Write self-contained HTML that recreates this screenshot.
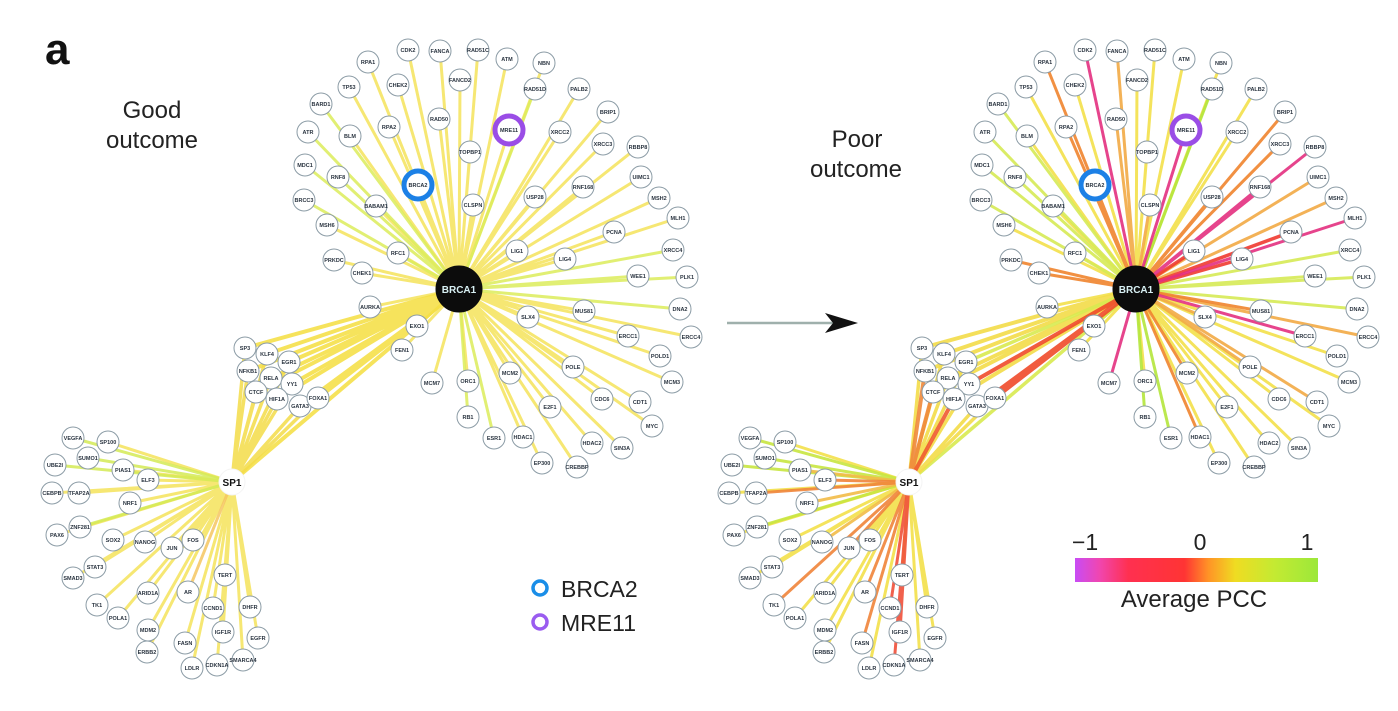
<!DOCTYPE html>
<html><head><meta charset="utf-8"><style>
html,body{margin:0;padding:0;background:#fff;}
svg{display:block;}
.n circle{fill:#fff;stroke:#8c9ca6;stroke-width:1;}
.n text{font-family:"Liberation Sans",sans-serif;font-weight:bold;font-size:5.5px;fill:#2a3440;text-anchor:middle;}
.e path{fill:none;stroke-linecap:round;}
.lbl{font-family:"Liberation Sans",sans-serif;fill:#222;}
</style></head><body>
<svg width="1398" height="711" viewBox="0 0 1398 711" xmlns="http://www.w3.org/2000/svg">
<defs>
<linearGradient id="pcc" x1="0" y1="0" x2="1" y2="0">
<stop offset="0" stop-color="#c84cf5"/>
<stop offset="0.1" stop-color="#f046b0"/>
<stop offset="0.22" stop-color="#ff3050"/>
<stop offset="0.45" stop-color="#ff3434"/>
<stop offset="0.55" stop-color="#ff9426"/>
<stop offset="0.66" stop-color="#efdc22"/>
<stop offset="0.82" stop-color="#c4ea32"/>
<stop offset="1" stop-color="#9ce83a"/>
</linearGradient>
</defs>
<rect width="1398" height="711" fill="#fff"/>

<!-- ================= LEFT NETWORK EDGES ================= -->
<g class="e" stroke-opacity="0.85">
<path stroke="#f4e35a" stroke-width="3" d="M459 289L408 50M459 289L440 51M459 289L478 50M459 289L507 59M459 289L544 63M459 289L368 62M459 289L460 80M459 289L349 87M459 289L398 85M459 289L579 89M459 289L608 112M459 289L439 119M459 289L350 136M459 289L389 127M459 289L509 130M459 289L560 132M459 289L603 144M459 289L638 147M459 289L470 152M459 289L418 185M459 289L583 187M459 289L641 177M459 289L376 206M459 289L473 205M459 289L535 197M459 289L659 198M459 289L327 225M459 289L678 218M459 289L614 232M459 289L398 253M459 289L517 251M459 289L565 259M459 289L334 260M459 289L362 273M459 289L370 307M459 289L417 326M459 289L584 311M459 289L528 317M459 289L628 336M459 289L691 337M459 289L402 350M459 289L660 356M459 289L573 367M459 289L510 373M459 289L672 382M459 289L432 383M459 289L468 381M459 289L602 399M459 289L640 402M459 289L550 407M459 289L652 426M459 289L523 437M459 289L592 443M459 289L622 448M459 289L542 463M459 289L577 467"/>
<path stroke="#dcec5a" stroke-width="3" d="M459 289L535 89M459 289L321 104M459 289L308 132M459 289L305 165M459 289L338 177M459 289L304 200M459 289L673 250M459 289L638 276M459 289L687 277M459 289L680 309M459 289L468 417M459 289L494 438"/>
<path stroke="#f5de40" stroke-width="4" d="M459 289L245 348M459 289L267 354M459 289L289 362M459 289L248 371M459 289L271 378M459 289L292 384M459 289L256 392M459 289L277 399M459 289L300 406M459 289L318 398M459 289L232 482"/>
<path stroke="#f3dc48" stroke-width="3.5" d="M232 482L245 348M232 482L267 354M232 482L289 362M232 482L248 371M232 482L271 378M232 482L292 384M232 482L256 392M232 482L277 399M232 482L300 406M232 482L318 398"/>
<path stroke="#f4e35a" stroke-width="3" d="M232 482L108 442M232 482L123 470M232 482L148 480M232 482L52 493M232 482L79 493M232 482L130 503M232 482L57 535M232 482L113 540M232 482L145 542M232 482L172 548M232 482L193 540M232 482L95 567M232 482L73 578M232 482L148 593M232 482L225 575M232 482L213 608M232 482L250 607M232 482L97 605M232 482L118 618M232 482L148 630M232 482L223 632M232 482L258 638M232 482L147 652M232 482L185 643M232 482L192 668M232 482L217 665M232 482L243 660"/>
<path stroke="#d4ea55" stroke-width="3" d="M232 482L73 438M232 482L88 458M232 482L55 465M232 482L80 527"/>
<path stroke="#f4c660" stroke-width="3" d="M232 482L188 592"/>
</g>

<!-- ================= RIGHT NETWORK EDGES ================= -->
<g class="e" transform="translate(677 0)" stroke-opacity="0.9">
<path stroke="#f3e04a" stroke-width="3" d="M459 289L478 50M459 289L507 59M459 289L544 63M459 289L460 80M459 289L349 87M459 289L398 85M459 289L579 89M459 289L350 136M459 289L560 132M459 289L470 152M459 289L376 206M459 289L327 225M459 289L398 253M459 289L370 307M459 289L417 326M459 289L402 350M459 289L660 356M459 289L672 382M459 289L468 381M459 289L602 399M459 289L550 407M459 289L652 426M459 289L592 443M459 289L622 448M459 289L542 463M459 289L577 467"/>
<path stroke="#d6ea55" stroke-width="3" d="M459 289L321 104M459 289L308 132M459 289L305 165M459 289L338 177M459 289L304 200M459 289L673 250M459 289L638 276M459 289L687 277M459 289L680 309"/>
<path stroke="#b4e63c" stroke-width="3" d="M459 289L535 89M459 289L468 417M459 289L494 438"/>
<path stroke="#f2aa45" stroke-width="3" d="M459 289L440 51M459 289L439 119M459 289L641 177M459 289L473 205M459 289L659 198M459 289L528 317M459 289L691 337M459 289L573 367M459 289L640 402"/>
<path stroke="#ef842e" stroke-width="3" d="M459 289L368 62M459 289L608 112M459 289L389 127M459 289L603 144M459 289L418 185M459 289L535 197M459 289L334 260M459 289L362 273M459 289L584 311M459 289L510 373M459 289L523 437"/>
<path stroke="#f03a30" stroke-width="3.5" d="M459 289L614 232M459 289L565 259M459 289L517 251"/>
<path stroke="#e3307f" stroke-width="3" d="M459 289L408 50M459 289L509 130M459 289L638 147M459 289L583 187M459 289L678 218M459 289L628 336M459 289L432 383"/>
<!-- cluster -->
<path stroke="#f3dc48" stroke-width="4" d="M459 289L245 348M459 289L267 354M459 289L248 371M459 289L271 378M459 289L256 392M459 289L277 399"/>
<path stroke="#d8ea50" stroke-width="3.5" d="M459 289L289 362M459 289L232 482"/>
<path stroke="#f04a2a" stroke-width="4" d="M459 289L292 384M459 289L300 406M459 289L318 398"/>
<path stroke="#f3dc48" stroke-width="3.5" d="M232 482L245 348M232 482L267 354M232 482L289 362M232 482L271 378M232 482L292 384M232 482L300 406M232 482L318 398"/>
<path stroke="#f0883a" stroke-width="4" d="M232 482L248 371M232 482L256 392"/>
<path stroke="#f05a30" stroke-width="4" d="M232 482L277 399"/>
<!-- SP1 -->
<path stroke="#f3e04a" stroke-width="3" d="M232 482L108 442M232 482L52 493M232 482L57 535M232 482L113 540M232 482L193 540M232 482L95 567M232 482L73 578M232 482L148 593M232 482L225 575M232 482L250 607M232 482L118 618M232 482L148 630M232 482L258 638M232 482L147 652M232 482L192 668M232 482L243 660"/>
<path stroke="#c8e640" stroke-width="3" d="M232 482L73 438M232 482L88 458M232 482L55 465M232 482L80 527"/>
<path stroke="#f2bb48" stroke-width="3" d="M232 482L123 470M232 482L145 542M232 482L130 503"/>
<path stroke="#f0843a" stroke-width="3" d="M232 482L148 480M232 482L79 493M232 482L172 548M232 482L188 592M232 482L97 605M232 482L185 643"/>
<path stroke="#f0503a" stroke-width="3" d="M232 482L213 608M232 482L223 632M232 482L217 665"/>
</g>

<!-- ================= LEFT NODES ================= -->
<g class="n">
<circle cx="408" cy="50" r="11"/><text x="408" y="52">CDK2</text>
<circle cx="440" cy="51" r="11"/><text x="440" y="53">FANCA</text>
<circle cx="478" cy="50" r="11"/><text x="478" y="52">RAD51C</text>
<circle cx="507" cy="59" r="11"/><text x="507" y="61">ATM</text>
<circle cx="544" cy="63" r="11"/><text x="544" y="65">NBN</text>
<circle cx="368" cy="62" r="11"/><text x="368" y="64">RPA1</text>
<circle cx="460" cy="80" r="11"/><text x="460" y="82">FANCD2</text>
<circle cx="349" cy="87" r="11"/><text x="349" y="89">TP53</text>
<circle cx="398" cy="85" r="11"/><text x="398" y="87">CHEK2</text>
<circle cx="535" cy="89" r="11"/><text x="535" y="91">RAD51D</text>
<circle cx="579" cy="89" r="11"/><text x="579" y="91">PALB2</text>
<circle cx="321" cy="104" r="11"/><text x="321" y="106">BARD1</text>
<circle cx="608" cy="112" r="11"/><text x="608" y="114">BRIP1</text>
<circle cx="439" cy="119" r="11"/><text x="439" y="121">RAD50</text>
<circle cx="308" cy="132" r="11"/><text x="308" y="134">ATR</text>
<circle cx="350" cy="136" r="11"/><text x="350" y="138">BLM</text>
<circle cx="389" cy="127" r="11"/><text x="389" y="129">RPA2</text>
<circle cx="560" cy="132" r="11"/><text x="560" y="134">XRCC2</text>
<circle cx="603" cy="144" r="11"/><text x="603" y="146">XRCC3</text>
<circle cx="638" cy="147" r="11"/><text x="638" y="149">RBBP8</text>
<circle cx="470" cy="152" r="11"/><text x="470" y="154">TOPBP1</text>
<circle cx="305" cy="165" r="11"/><text x="305" y="167">MDC1</text>
<circle cx="338" cy="177" r="11"/><text x="338" y="179">RNF8</text>
<circle cx="583" cy="187" r="11"/><text x="583" y="189">RNF168</text>
<circle cx="641" cy="177" r="11"/><text x="641" y="179">UIMC1</text>
<circle cx="304" cy="200" r="11"/><text x="304" y="202">BRCC3</text>
<circle cx="376" cy="206" r="11"/><text x="376" y="208">BABAM1</text>
<circle cx="473" cy="205" r="11"/><text x="473" y="207">CLSPN</text>
<circle cx="535" cy="197" r="11"/><text x="535" y="199">USP28</text>
<circle cx="659" cy="198" r="11"/><text x="659" y="200">MSH2</text>
<circle cx="327" cy="225" r="11"/><text x="327" y="227">MSH6</text>
<circle cx="678" cy="218" r="11"/><text x="678" y="220">MLH1</text>
<circle cx="614" cy="232" r="11"/><text x="614" y="234">PCNA</text>
<circle cx="398" cy="253" r="11"/><text x="398" y="255">RFC1</text>
<circle cx="517" cy="251" r="11"/><text x="517" y="253">LIG1</text>
<circle cx="565" cy="259" r="11"/><text x="565" y="261">LIG4</text>
<circle cx="673" cy="250" r="11"/><text x="673" y="252">XRCC4</text>
<circle cx="334" cy="260" r="11"/><text x="334" y="262">PRKDC</text>
<circle cx="362" cy="273" r="11"/><text x="362" y="275">CHEK1</text>
<circle cx="638" cy="276" r="11"/><text x="638" y="278">WEE1</text>
<circle cx="687" cy="277" r="11"/><text x="687" y="279">PLK1</text>
<circle cx="370" cy="307" r="11"/><text x="370" y="309">AURKA</text>
<circle cx="417" cy="326" r="11"/><text x="417" y="328">EXO1</text>
<circle cx="680" cy="309" r="11"/><text x="680" y="311">DNA2</text>
<circle cx="584" cy="311" r="11"/><text x="584" y="313">MUS81</text>
<circle cx="528" cy="317" r="11"/><text x="528" y="319">SLX4</text>
<circle cx="628" cy="336" r="11"/><text x="628" y="338">ERCC1</text>
<circle cx="691" cy="337" r="11"/><text x="691" y="339">ERCC4</text>
<circle cx="402" cy="350" r="11"/><text x="402" y="352">FEN1</text>
<circle cx="660" cy="356" r="11"/><text x="660" y="358">POLD1</text>
<circle cx="573" cy="367" r="11"/><text x="573" y="369">POLE</text>
<circle cx="510" cy="373" r="11"/><text x="510" y="375">MCM2</text>
<circle cx="672" cy="382" r="11"/><text x="672" y="384">MCM3</text>
<circle cx="432" cy="383" r="11"/><text x="432" y="385">MCM7</text>
<circle cx="468" cy="381" r="11"/><text x="468" y="383">ORC1</text>
<circle cx="602" cy="399" r="11"/><text x="602" y="401">CDC6</text>
<circle cx="640" cy="402" r="11"/><text x="640" y="404">CDT1</text>
<circle cx="550" cy="407" r="11"/><text x="550" y="409">E2F1</text>
<circle cx="468" cy="417" r="11"/><text x="468" y="419">RB1</text>
<circle cx="652" cy="426" r="11"/><text x="652" y="428">MYC</text>
<circle cx="494" cy="438" r="11"/><text x="494" y="440">ESR1</text>
<circle cx="523" cy="437" r="11"/><text x="523" y="439">HDAC1</text>
<circle cx="592" cy="443" r="11"/><text x="592" y="445">HDAC2</text>
<circle cx="622" cy="448" r="11"/><text x="622" y="450">SIN3A</text>
<circle cx="542" cy="463" r="11"/><text x="542" y="465">EP300</text>
<circle cx="577" cy="467" r="11"/><text x="577" y="469">CREBBP</text>
<!-- cluster -->
<circle cx="245" cy="348" r="11"/><text x="245" y="350">SP3</text>
<circle cx="267" cy="354" r="11"/><text x="267" y="356">KLF4</text>
<circle cx="289" cy="362" r="11"/><text x="289" y="364">EGR1</text>
<circle cx="248" cy="371" r="11"/><text x="248" y="373">NFKB1</text>
<circle cx="271" cy="378" r="11"/><text x="271" y="380">RELA</text>
<circle cx="292" cy="384" r="11"/><text x="292" y="386">YY1</text>
<circle cx="256" cy="392" r="11"/><text x="256" y="394">CTCF</text>
<circle cx="277" cy="399" r="11"/><text x="277" y="401">HIF1A</text>
<circle cx="300" cy="406" r="11"/><text x="300" y="408">GATA3</text>
<circle cx="318" cy="398" r="11"/><text x="318" y="400">FOXA1</text>
<!-- SP1 neighbours -->
<circle cx="73" cy="438" r="11"/><text x="73" y="440">VEGFA</text>
<circle cx="108" cy="442" r="11"/><text x="108" y="444">SP100</text>
<circle cx="88" cy="458" r="11"/><text x="88" y="460">SUMO1</text>
<circle cx="55" cy="465" r="11"/><text x="55" y="467">UBE2I</text>
<circle cx="123" cy="470" r="11"/><text x="123" y="472">PIAS1</text>
<circle cx="148" cy="480" r="11"/><text x="148" y="482">ELF3</text>
<circle cx="52" cy="493" r="11"/><text x="52" y="495">CEBPB</text>
<circle cx="79" cy="493" r="11"/><text x="79" y="495">TFAP2A</text>
<circle cx="130" cy="503" r="11"/><text x="130" y="505">NRF1</text>
<circle cx="80" cy="527" r="11"/><text x="80" y="529">ZNF281</text>
<circle cx="57" cy="535" r="11"/><text x="57" y="537">PAX6</text>
<circle cx="113" cy="540" r="11"/><text x="113" y="542">SOX2</text>
<circle cx="145" cy="542" r="11"/><text x="145" y="544">NANOG</text>
<circle cx="172" cy="548" r="11"/><text x="172" y="550">JUN</text>
<circle cx="193" cy="540" r="11"/><text x="193" y="542">FOS</text>
<circle cx="95" cy="567" r="11"/><text x="95" y="569">STAT3</text>
<circle cx="73" cy="578" r="11"/><text x="73" y="580">SMAD3</text>
<circle cx="188" cy="592" r="11"/><text x="188" y="594">AR</text>
<circle cx="148" cy="593" r="11"/><text x="148" y="595">ARID1A</text>
<circle cx="225" cy="575" r="11"/><text x="225" y="577">TERT</text>
<circle cx="213" cy="608" r="11"/><text x="213" y="610">CCND1</text>
<circle cx="250" cy="607" r="11"/><text x="250" y="609">DHFR</text>
<circle cx="97" cy="605" r="11"/><text x="97" y="607">TK1</text>
<circle cx="118" cy="618" r="11"/><text x="118" y="620">POLA1</text>
<circle cx="148" cy="630" r="11"/><text x="148" y="632">MDM2</text>
<circle cx="223" cy="632" r="11"/><text x="223" y="634">IGF1R</text>
<circle cx="258" cy="638" r="11"/><text x="258" y="640">EGFR</text>
<circle cx="147" cy="652" r="11"/><text x="147" y="654">ERBB2</text>
<circle cx="185" cy="643" r="11"/><text x="185" y="645">FASN</text>
<circle cx="192" cy="668" r="11"/><text x="192" y="670">LDLR</text>
<circle cx="217" cy="665" r="11"/><text x="217" y="667">CDKN1A</text>
<circle cx="243" cy="660" r="11"/><text x="243" y="662">SMARCA4</text>
<!-- highlighted -->
<circle cx="418" cy="185" r="14" style="stroke:#1c80e6;stroke-width:5"/><text x="418" y="187">BRCA2</text>
<circle cx="509" cy="130" r="14" style="stroke:#9a4de6;stroke-width:5"/><text x="509" y="132">MRE11</text>
<!-- hubs -->
<circle cx="459" cy="289" r="23" style="fill:#0c0c0c;stroke:#0c0c0c"/>
<text x="459" y="293" style="font-size:10px;fill:#d8f0f4">BRCA1</text>
<circle cx="232" cy="482" r="13" style="stroke:#f4f4f4"/>
<text x="232" y="486" style="font-size:10px;fill:#111">SP1</text>
</g>

<!-- ================= RIGHT NODES ================= -->
<g class="n" transform="translate(677 0)">
<circle cx="408" cy="50" r="11"/><text x="408" y="52">CDK2</text>
<circle cx="440" cy="51" r="11"/><text x="440" y="53">FANCA</text>
<circle cx="478" cy="50" r="11"/><text x="478" y="52">RAD51C</text>
<circle cx="507" cy="59" r="11"/><text x="507" y="61">ATM</text>
<circle cx="544" cy="63" r="11"/><text x="544" y="65">NBN</text>
<circle cx="368" cy="62" r="11"/><text x="368" y="64">RPA1</text>
<circle cx="460" cy="80" r="11"/><text x="460" y="82">FANCD2</text>
<circle cx="349" cy="87" r="11"/><text x="349" y="89">TP53</text>
<circle cx="398" cy="85" r="11"/><text x="398" y="87">CHEK2</text>
<circle cx="535" cy="89" r="11"/><text x="535" y="91">RAD51D</text>
<circle cx="579" cy="89" r="11"/><text x="579" y="91">PALB2</text>
<circle cx="321" cy="104" r="11"/><text x="321" y="106">BARD1</text>
<circle cx="608" cy="112" r="11"/><text x="608" y="114">BRIP1</text>
<circle cx="439" cy="119" r="11"/><text x="439" y="121">RAD50</text>
<circle cx="308" cy="132" r="11"/><text x="308" y="134">ATR</text>
<circle cx="350" cy="136" r="11"/><text x="350" y="138">BLM</text>
<circle cx="389" cy="127" r="11"/><text x="389" y="129">RPA2</text>
<circle cx="560" cy="132" r="11"/><text x="560" y="134">XRCC2</text>
<circle cx="603" cy="144" r="11"/><text x="603" y="146">XRCC3</text>
<circle cx="638" cy="147" r="11"/><text x="638" y="149">RBBP8</text>
<circle cx="470" cy="152" r="11"/><text x="470" y="154">TOPBP1</text>
<circle cx="305" cy="165" r="11"/><text x="305" y="167">MDC1</text>
<circle cx="338" cy="177" r="11"/><text x="338" y="179">RNF8</text>
<circle cx="583" cy="187" r="11"/><text x="583" y="189">RNF168</text>
<circle cx="641" cy="177" r="11"/><text x="641" y="179">UIMC1</text>
<circle cx="304" cy="200" r="11"/><text x="304" y="202">BRCC3</text>
<circle cx="376" cy="206" r="11"/><text x="376" y="208">BABAM1</text>
<circle cx="473" cy="205" r="11"/><text x="473" y="207">CLSPN</text>
<circle cx="535" cy="197" r="11"/><text x="535" y="199">USP28</text>
<circle cx="659" cy="198" r="11"/><text x="659" y="200">MSH2</text>
<circle cx="327" cy="225" r="11"/><text x="327" y="227">MSH6</text>
<circle cx="678" cy="218" r="11"/><text x="678" y="220">MLH1</text>
<circle cx="614" cy="232" r="11"/><text x="614" y="234">PCNA</text>
<circle cx="398" cy="253" r="11"/><text x="398" y="255">RFC1</text>
<circle cx="517" cy="251" r="11"/><text x="517" y="253">LIG1</text>
<circle cx="565" cy="259" r="11"/><text x="565" y="261">LIG4</text>
<circle cx="673" cy="250" r="11"/><text x="673" y="252">XRCC4</text>
<circle cx="334" cy="260" r="11"/><text x="334" y="262">PRKDC</text>
<circle cx="362" cy="273" r="11"/><text x="362" y="275">CHEK1</text>
<circle cx="638" cy="276" r="11"/><text x="638" y="278">WEE1</text>
<circle cx="687" cy="277" r="11"/><text x="687" y="279">PLK1</text>
<circle cx="370" cy="307" r="11"/><text x="370" y="309">AURKA</text>
<circle cx="417" cy="326" r="11"/><text x="417" y="328">EXO1</text>
<circle cx="680" cy="309" r="11"/><text x="680" y="311">DNA2</text>
<circle cx="584" cy="311" r="11"/><text x="584" y="313">MUS81</text>
<circle cx="528" cy="317" r="11"/><text x="528" y="319">SLX4</text>
<circle cx="628" cy="336" r="11"/><text x="628" y="338">ERCC1</text>
<circle cx="691" cy="337" r="11"/><text x="691" y="339">ERCC4</text>
<circle cx="402" cy="350" r="11"/><text x="402" y="352">FEN1</text>
<circle cx="660" cy="356" r="11"/><text x="660" y="358">POLD1</text>
<circle cx="573" cy="367" r="11"/><text x="573" y="369">POLE</text>
<circle cx="510" cy="373" r="11"/><text x="510" y="375">MCM2</text>
<circle cx="672" cy="382" r="11"/><text x="672" y="384">MCM3</text>
<circle cx="432" cy="383" r="11"/><text x="432" y="385">MCM7</text>
<circle cx="468" cy="381" r="11"/><text x="468" y="383">ORC1</text>
<circle cx="602" cy="399" r="11"/><text x="602" y="401">CDC6</text>
<circle cx="640" cy="402" r="11"/><text x="640" y="404">CDT1</text>
<circle cx="550" cy="407" r="11"/><text x="550" y="409">E2F1</text>
<circle cx="468" cy="417" r="11"/><text x="468" y="419">RB1</text>
<circle cx="652" cy="426" r="11"/><text x="652" y="428">MYC</text>
<circle cx="494" cy="438" r="11"/><text x="494" y="440">ESR1</text>
<circle cx="523" cy="437" r="11"/><text x="523" y="439">HDAC1</text>
<circle cx="592" cy="443" r="11"/><text x="592" y="445">HDAC2</text>
<circle cx="622" cy="448" r="11"/><text x="622" y="450">SIN3A</text>
<circle cx="542" cy="463" r="11"/><text x="542" y="465">EP300</text>
<circle cx="577" cy="467" r="11"/><text x="577" y="469">CREBBP</text>
<circle cx="245" cy="348" r="11"/><text x="245" y="350">SP3</text>
<circle cx="267" cy="354" r="11"/><text x="267" y="356">KLF4</text>
<circle cx="289" cy="362" r="11"/><text x="289" y="364">EGR1</text>
<circle cx="248" cy="371" r="11"/><text x="248" y="373">NFKB1</text>
<circle cx="271" cy="378" r="11"/><text x="271" y="380">RELA</text>
<circle cx="292" cy="384" r="11"/><text x="292" y="386">YY1</text>
<circle cx="256" cy="392" r="11"/><text x="256" y="394">CTCF</text>
<circle cx="277" cy="399" r="11"/><text x="277" y="401">HIF1A</text>
<circle cx="300" cy="406" r="11"/><text x="300" y="408">GATA3</text>
<circle cx="318" cy="398" r="11"/><text x="318" y="400">FOXA1</text>
<circle cx="73" cy="438" r="11"/><text x="73" y="440">VEGFA</text>
<circle cx="108" cy="442" r="11"/><text x="108" y="444">SP100</text>
<circle cx="88" cy="458" r="11"/><text x="88" y="460">SUMO1</text>
<circle cx="55" cy="465" r="11"/><text x="55" y="467">UBE2I</text>
<circle cx="123" cy="470" r="11"/><text x="123" y="472">PIAS1</text>
<circle cx="148" cy="480" r="11"/><text x="148" y="482">ELF3</text>
<circle cx="52" cy="493" r="11"/><text x="52" y="495">CEBPB</text>
<circle cx="79" cy="493" r="11"/><text x="79" y="495">TFAP2A</text>
<circle cx="130" cy="503" r="11"/><text x="130" y="505">NRF1</text>
<circle cx="80" cy="527" r="11"/><text x="80" y="529">ZNF281</text>
<circle cx="57" cy="535" r="11"/><text x="57" y="537">PAX6</text>
<circle cx="113" cy="540" r="11"/><text x="113" y="542">SOX2</text>
<circle cx="145" cy="542" r="11"/><text x="145" y="544">NANOG</text>
<circle cx="172" cy="548" r="11"/><text x="172" y="550">JUN</text>
<circle cx="193" cy="540" r="11"/><text x="193" y="542">FOS</text>
<circle cx="95" cy="567" r="11"/><text x="95" y="569">STAT3</text>
<circle cx="73" cy="578" r="11"/><text x="73" y="580">SMAD3</text>
<circle cx="188" cy="592" r="11"/><text x="188" y="594">AR</text>
<circle cx="148" cy="593" r="11"/><text x="148" y="595">ARID1A</text>
<circle cx="225" cy="575" r="11"/><text x="225" y="577">TERT</text>
<circle cx="213" cy="608" r="11"/><text x="213" y="610">CCND1</text>
<circle cx="250" cy="607" r="11"/><text x="250" y="609">DHFR</text>
<circle cx="97" cy="605" r="11"/><text x="97" y="607">TK1</text>
<circle cx="118" cy="618" r="11"/><text x="118" y="620">POLA1</text>
<circle cx="148" cy="630" r="11"/><text x="148" y="632">MDM2</text>
<circle cx="223" cy="632" r="11"/><text x="223" y="634">IGF1R</text>
<circle cx="258" cy="638" r="11"/><text x="258" y="640">EGFR</text>
<circle cx="147" cy="652" r="11"/><text x="147" y="654">ERBB2</text>
<circle cx="185" cy="643" r="11"/><text x="185" y="645">FASN</text>
<circle cx="192" cy="668" r="11"/><text x="192" y="670">LDLR</text>
<circle cx="217" cy="665" r="11"/><text x="217" y="667">CDKN1A</text>
<circle cx="243" cy="660" r="11"/><text x="243" y="662">SMARCA4</text>
<circle cx="418" cy="185" r="14" style="stroke:#1c80e6;stroke-width:5"/><text x="418" y="187">BRCA2</text>
<circle cx="509" cy="130" r="14" style="stroke:#9a4de6;stroke-width:5"/><text x="509" y="132">MRE11</text>
<circle cx="459" cy="289" r="23" style="fill:#0c0c0c;stroke:#0c0c0c"/>
<text x="459" y="293" style="font-size:10px;fill:#d8f0f4">BRCA1</text>
<circle cx="232" cy="482" r="13" style="stroke:#f4f4f4"/>
<text x="232" y="486" style="font-size:10px;fill:#111">SP1</text>
</g>

<!-- ================= LABELS / ARROW / LEGEND ================= -->
<text class="lbl" x="45" y="64" style="font-size:44px;font-weight:bold;fill:#111">a</text>
<text class="lbl" x="152" y="118" text-anchor="middle" style="font-size:24px">Good</text>
<text class="lbl" x="152" y="148" text-anchor="middle" style="font-size:24px">outcome</text>
<text class="lbl" x="857" y="147" text-anchor="middle" style="font-size:24px">Poor</text>
<text class="lbl" x="856" y="177" text-anchor="middle" style="font-size:24px">outcome</text>

<line x1="727" y1="323" x2="834" y2="323" stroke="#9fb0ac" stroke-width="2.5"/>
<polygon points="825,313 858,323 825,333 833,323" fill="#111"/>

<circle cx="540" cy="588" r="7" fill="none" stroke="#1a8ee8" stroke-width="3.5"/>
<text class="lbl" x="561" y="597" style="font-size:23px">BRCA2</text>
<circle cx="540" cy="622" r="7" fill="none" stroke="#9a5cf0" stroke-width="3.5"/>
<text class="lbl" x="561" y="631" style="font-size:23px">MRE11</text>

<text class="lbl" x="1072" y="550" style="font-size:23px">−1</text>
<text class="lbl" x="1200" y="550" text-anchor="middle" style="font-size:23px">0</text>
<text class="lbl" x="1307" y="550" text-anchor="middle" style="font-size:23px">1</text>
<rect x="1075" y="558" width="243" height="24" fill="url(#pcc)"/>
<text class="lbl" x="1194" y="607" text-anchor="middle" style="font-size:24px">Average PCC</text>
</svg>
</body></html>
